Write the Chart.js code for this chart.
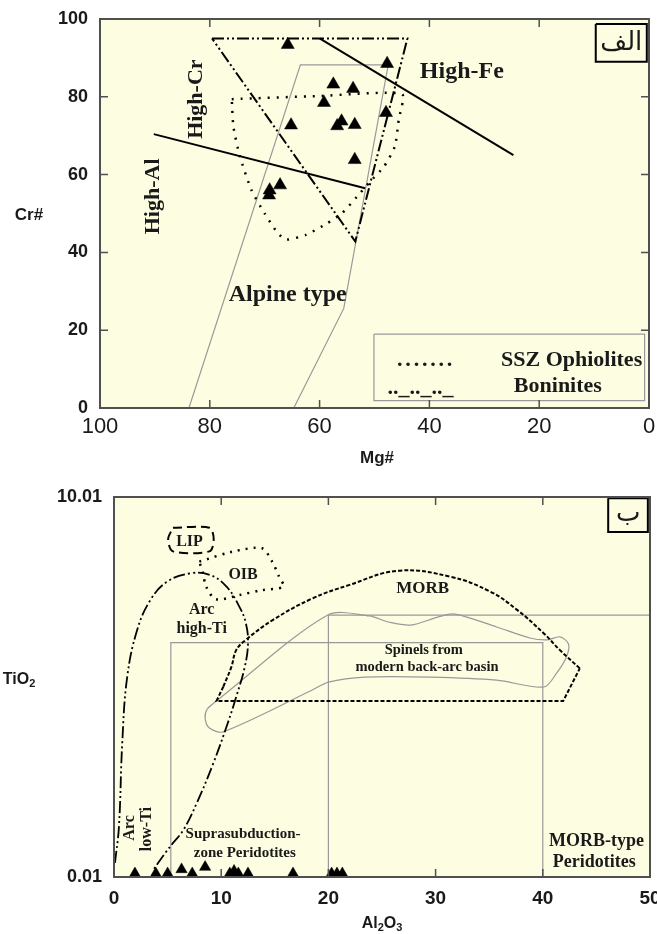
<!DOCTYPE html>
<html lang="fa">
<head>
<meta charset="UTF-8">
<title>Cr# - Mg# و TiO2 - Al2O3</title>
<script src="https://cdn.jsdelivr.net/npm/chart.js"></script>
<style>
  body { margin: 0; background: #fff; }
  .wrap { position: relative; width: 657px; height: 934px; }
  canvas { position: absolute; left: 0; }
</style>
</head>
<body>
<div class="wrap">
  <canvas id="chartTop" width="657" height="480" style="top:0"></canvas>
  <canvas id="chartBottom" width="657" height="484" style="top:450px"></canvas>
</div>
<script>
// ---------- panel الف : Cr# vs Mg# ----------
const sampleMg = [65.8, 47.7, 57.5, 53.9, 59.2, 47.9, 65.2, 56.0, 56.8, 53.6, 53.6, 67.2, 69.1, 69.2];
const sampleCr = [93.4, 88.5, 83.2, 82.1, 78.5, 75.9, 72.7, 73.7, 72.5, 72.8, 63.8, 57.3, 56.0, 54.7];

const boniniteMg = [79.6, 44.0, 53.5, 79.6];
const boniniteCr = [95, 95, 42.8, 95];

const sszMg = [76.0, 60.0, 45.0, 45.6, 46.3, 48.3, 50.8, 53.2, 55.9, 58.6, 62.5, 66.0, 67.6, 70.0, 72.4, 74.5, 75.7, 76.0];
const sszCr = [79.4, 80.2, 80.7, 74.0, 67.2, 62.0, 58.2, 54.3, 50.1, 47.5, 44.5, 43.3, 44.9, 50.0, 56.0, 64.6, 72.3, 79.4];

const alpineMg = [83.8, 63.5, 47.5, 55.6, 64.7];
const alpineCr = [0, 88.2, 88.2, 25.6, 0];

const highFeMg = [60, 24.7];
const highFeCr = [95, 65];
const highAlMg = [90.2, 51.7];
const highAlCr = [70.4, 56.5];

const legendBoxMg = [50.1, 0.8, 0.8, 50.1, 50.1];
const legendBoxCr = [19, 19, 1.9, 1.9, 19];
const tagBoxMg = [9.7, 0.4, 0.4, 9.7, 9.7];
const tagBoxCr = [98.7, 98.7, 89, 89, 98.7];

const topXTicks = [100, 80, 60, 40, 20, 0];
const topYTicks = [0, 20, 40, 60, 80, 100];
const topMarks = [20, 40, 60, 80];

// ---------- panel ب : TiO2 vs Al2O3 ----------
const spinelAl = [1.95, 3.9, 5.0, 6.3, 7.3, 8.5, 10.8, 11.2, 11.6, 12.5, 16.7, 20.3, 20.8, 21.3];
const spinelTi = [0.10, 0.10, 0.10, 0.21, 0.10, 0.27, 0.10, 0.17, 0.10, 0.10, 0.10, 0.10, 0.10, 0.10];

const arcAl = [0.09, 0.46, 0.77, 1.23, 2.16, 3.40, 4.94, 7.10, 8.95, 10.5, 11.7, 12.3, 12.5, 12.2, 11.4, 10.6, 9.26, 7.71, 6.48, 5.49, 4.88, 3.64];
const arcTi = [0.38, 1.33, 3.54, 5.27, 6.51, 7.30, 7.78, 8.00, 7.96, 7.65, 7.12, 6.69, 6.16, 5.54, 4.75, 4.05, 3.00, 1.95, 1.25, 0.90, 0.68, 0.19];

const morbEdgeAl = [10.2, 9.56, 41.9, 43.45];
const morbEdgeTi = [5.02, 4.64, 4.64, 5.50];
const morbDomeAl = [43.45, 41.6, 40.1, 37.6, 35.1, 31.4, 26.5, 21.9, 18.5, 14.8, 12.3, 11.4, 10.95, 10.2];
const morbDomeTi = [5.50, 5.98, 6.42, 7.04, 7.52, 7.91, 8.07, 7.69, 7.34, 6.77, 6.25, 5.98, 5.54, 5.02];

const backArcAl = [9.54, 19.9, 23.8, 25.6, 27.7, 30.2, 31.8, 35.7, 38.8, 40.4, 41.6, 42.4, 42.2, 41.3, 40.1, 35.7, 29.5, 23.4, 20.0, 18.5, 10.2, 8.9, 8.5, 8.7, 9.54];
const backArcTi = [4.64, 6.90, 6.88, 6.72, 6.64, 6.85, 6.93, 6.59, 6.30, 6.25, 6.33, 6.14, 5.80, 5.38, 5.01, 5.19, 5.27, 5.27, 5.14, 4.93, 3.83, 3.93, 4.19, 4.43, 4.64];

const oibAl = [7.96, 11.05, 13.8, 14.75, 15.4, 15.8, 13.8, 11.7, 9.5, 8.6, 8.3, 7.96];
const oibTi = [8.31, 8.57, 8.66, 8.31, 7.91, 7.65, 7.56, 7.43, 7.32, 7.65, 8.00, 8.31];

const lipAl = [5.5, 8.9, 9.3, 8.9, 5.5, 5.05, 5.5];
const lipTi = [9.2, 9.2, 8.9, 8.58, 8.58, 8.9, 9.2];

const ssuBoxAl = [5.3, 5.3, 40, 40];
const ssuBoxTi = [0.01, 6.18, 6.18, 0.01];
const morbBoxAl = [20, 20, 50];
const morbBoxTi = [0.01, 6.9, 6.9];
const tagBoxAl = [46.1, 49.8, 49.8, 46.1, 46.1];
const tagBoxTi = [9.98, 9.98, 9.09, 9.09, 9.98];

const bottomXTicks = [0, 10, 20, 30, 40, 50];
const bottomYTicks = [0.01, 10.01];
const bottomMarks = [10, 20, 30, 40];

// ---------- styles ----------
const PLOT_BG = '#fdfde2';
const AXIS = '#505050';
const INK = '#1a1a1a';
const GREY = '#999999';
const SERIF = '"Liberation Serif", "Times New Roman", serif';
const SANS = '"Liberation Sans", Arial, sans-serif';
const DOTS = [2, 7];
const DASH_DOT_DOT = [12, 3, 2, 3, 2, 3];

const pts = (xs, ys) => xs.map((v, i) => ({ x: v, y: ys[i] }));

function line(xs, ys, color, width, dash, tension) {
    return {
        data: pts(xs, ys),
        showLine: true,
        borderColor: color,
        borderWidth: width,
        borderDash: dash || [],
        tension: tension || 0,
        pointRadius: 0,
        pointHoverRadius: 0,
        fill: false
    };
}

function triangles(xs, ys, r) {
    return {
        data: pts(xs, ys),
        showLine: false,
        pointStyle: 'triangle',
        pointRadius: r,
        pointHoverRadius: r,
        backgroundColor: '#000',
        borderColor: '#000',
        borderWidth: 0.5
    };
}

// draws a string with sub-script pieces, centred on x
function drawChem(c, parts, x, y, font, subFont) {
    let w = 0;
    parts.forEach(p => { c.font = p[1] ? subFont : font; w += c.measureText(p[0]).width; });
    let cx = x - w / 2;
    c.textAlign = 'left';
    c.textBaseline = 'middle';
    parts.forEach(p => {
        c.font = p[1] ? subFont : font;
        c.fillText(p[0], cx, p[1] ? y + 4 : y);
        cx += c.measureText(p[0]).width;
    });
}

function panelPlugin(cfg) {
    return {
        id: 'panel',
        beforeDraw(chart) {
            const a = chart.chartArea, c = chart.ctx;
            c.save();
            c.fillStyle = PLOT_BG;
            c.fillRect(a.left, a.top, a.right - a.left, a.bottom - a.top);
            c.restore();
        },
        afterDraw(chart) {
            const c = chart.ctx, a = chart.chartArea;
            const x = chart.scales.x, y = chart.scales.y;
            c.save();
            c.fillStyle = INK;

            // notes inside the plot
            cfg.notes.forEach(n => {
                c.font = n.font;
                c.textAlign = 'center';
                c.textBaseline = n.base || 'middle';
                c.letterSpacing = n.spacing || '0px';
                const px = x.getPixelForValue(n.x), py = y.getPixelForValue(n.y);
                if (n.rot) {
                    c.save();
                    c.translate(px, py);
                    c.rotate(-Math.PI / 2);
                    c.fillText(n.t, 0, 0);
                    c.restore();
                } else {
                    c.fillText(n.t, px, py);
                }
            });
            c.letterSpacing = '0px';

            // frame
            c.strokeStyle = AXIS;
            c.lineWidth = 2;
            c.strokeRect(a.left, a.top, a.right - a.left, a.bottom - a.top);

            // inner tick marks
            c.lineWidth = 1.5;
            c.beginPath();
            cfg.xMarks.forEach(v => {
                const px = x.getPixelForValue(v);
                c.moveTo(px, a.bottom); c.lineTo(px, a.bottom - 8);
                c.moveTo(px, a.top); c.lineTo(px, a.top + 8);
            });
            cfg.yMarks.forEach(v => {
                const py = y.getPixelForValue(v);
                c.moveTo(a.left, py); c.lineTo(a.left + 8, py);
                c.moveTo(a.right, py); c.lineTo(a.right - 8, py);
            });
            c.stroke();

            // tick labels
            c.fillStyle = INK;
            c.font = cfg.xFont;
            c.textAlign = 'center';
            c.textBaseline = 'middle';
            cfg.xTicks.forEach(v => c.fillText(String(v), x.getPixelForValue(v), a.bottom + cfg.xGap));
            c.font = cfg.yFont;
            c.textAlign = 'right';
            cfg.yTicks.forEach(v => c.fillText(String(v), a.left - 12, y.getPixelForValue(v)));

            // axis titles
            cfg.titles.forEach(t => drawChem(c, t.parts, t.x, t.y, t.font, t.subFont));
            c.restore();
        }
    };
}

const baseOptions = (padding, xOpts, yOpts) => ({
    responsive: false,
    animation: false,
    devicePixelRatio: 1,
    layout: { padding: padding },
    plugins: { legend: { display: false }, tooltip: { enabled: false } },
    scales: {
        x: Object.assign({ type: 'linear', display: false }, xOpts),
        y: Object.assign({ type: 'linear', display: false }, yOpts)
    }
});

// ---------- chart الف ----------
new Chart(document.getElementById('chartTop'), {
    type: 'scatter',
    data: {
        datasets: [
            triangles(sampleMg, sampleCr, 7.5),
            line(highFeMg, highFeCr, '#000', 2),
            line(highAlMg, highAlCr, '#000', 2),
            line(boniniteMg, boniniteCr, '#000', 2, DASH_DOT_DOT),
            line(sszMg, sszCr, '#000', 2.5, DOTS, 0.2),
            line(alpineMg, alpineCr, GREY, 1.2),
            line(legendBoxMg, legendBoxCr, GREY, 1.2),
            line(tagBoxMg, tagBoxCr, '#000', 2)
        ]
    },
    options: baseOptions({ left: 100, top: 19, right: 2, bottom: 72 },
        { min: 0, max: 100, reverse: true }, { min: 0, max: 100 }),
    plugins: [panelPlugin({
        notes: [
            { t: 'High-Fe', x: 34.1, y: 86.5, font: 'bold 24px ' + SERIF },
            { t: 'High-Cr', x: 82.5, y: 79.4, rot: true, font: 'bold 22px ' + SERIF },
            { t: 'High-Al', x: 90.3, y: 54.4, rot: true, font: 'bold 22px ' + SERIF },
            { t: 'Alpine type', x: 65.8, y: 29.0, font: 'bold 24px ' + SERIF },
            { t: 'SSZ Ophiolites', x: 14.1, y: 12.3, font: 'bold 22px ' + SERIF },
            { t: 'Boninites', x: 16.6, y: 5.5, font: 'bold 22px ' + SERIF },
            { t: '.......', x: 40.6, y: 10.7, base: 'alphabetic', spacing: '2.8px', font: 'bold 22px ' + SERIF },
            { t: '.._.._.._', x: 41.6, y: 3.7, base: 'alphabetic', font: 'bold 22px ' + SERIF },
            { t: 'الف', x: 5.05, y: 93.8, font: '26px "DejaVu Sans", sans-serif' }
        ],
        xMarks: topMarks, yMarks: topMarks,
        xTicks: topXTicks, yTicks: topYTicks,
        xFont: '22px ' + SANS, xGap: 19,
        yFont: 'bold 18px ' + SANS,
        titles: [
            { parts: [['Cr#', false]], x: 29, y: 215, font: 'bold 17px ' + SANS },
            { parts: [['Mg#', false]], x: 377, y: 458, font: 'bold 17px ' + SANS }
        ]
    })]
});

// ---------- chart ب ----------
new Chart(document.getElementById('chartBottom'), {
    type: 'scatter',
    data: {
        datasets: [
            triangles(spinelAl, spinelTi, 6.5),
            line(arcAl, arcTi, '#000', 1.8, DASH_DOT_DOT, 0.4),
            line(morbEdgeAl, morbEdgeTi, '#000', 2, [4, 2]),
            line(morbDomeAl, morbDomeTi, '#000', 2, [4, 2], 0.4),
            line(oibAl, oibTi, '#000', 2.5, [2, 6], 0.3),
            line(lipAl, lipTi, '#000', 2, [9, 5], 0.3),
            line(backArcAl, backArcTi, GREY, 1.2, [], 0.3),
            line(ssuBoxAl, ssuBoxTi, GREY, 1.2),
            line(morbBoxAl, morbBoxTi, GREY, 1.2),
            line(tagBoxAl, tagBoxTi, '#000', 2)
        ]
    },
    options: baseOptions({ left: 114, top: 47, right: 3, bottom: 57 },
        { min: 0, max: 50 }, { min: 0.01, max: 10.01 }),
    plugins: [panelPlugin({
        notes: [
            { t: 'ب', x: 47.96, y: 9.55, font: '26px "DejaVu Sans", sans-serif' },
            { t: 'LIP', x: 7.04, y: 8.84, font: 'bold 16px ' + SERIF },
            { t: 'OIB', x: 12.04, y: 7.96, font: 'bold 16px ' + SERIF },
            { t: 'Arc', x: 8.18, y: 7.04, font: 'bold 16px ' + SERIF },
            { t: 'high-Ti', x: 8.18, y: 6.55, font: 'bold 16px ' + SERIF },
            { t: 'MORB', x: 28.8, y: 7.61, font: 'bold 17px ' + SERIF },
            { t: 'Spinels from', x: 28.9, y: 5.98, font: 'bold 14.5px ' + SERIF },
            { t: 'modern back-arc basin', x: 29.2, y: 5.54, font: 'bold 14.5px ' + SERIF },
            { t: 'Suprasubduction-', x: 12.04, y: 1.14, font: 'bold 15px ' + SERIF },
            { t: 'zone Peridotites', x: 12.2, y: 0.63, font: 'bold 15px ' + SERIF },
            { t: 'MORB-type', x: 45.0, y: 0.94, font: 'bold 18px ' + SERIF },
            { t: 'Peridotites', x: 44.8, y: 0.40, font: 'bold 18px ' + SERIF },
            { t: 'Arc', x: 1.48, y: 1.30, rot: true, font: 'bold 16px ' + SERIF },
            { t: 'low-Ti', x: 3.10, y: 1.27, rot: true, font: 'bold 16px ' + SERIF }
        ],
        xMarks: bottomMarks, yMarks: [],
        xTicks: bottomXTicks, yTicks: bottomYTicks,
        xFont: 'bold 19px ' + SANS, xGap: 22,
        yFont: 'bold 18px ' + SANS,
        titles: [
            { parts: [['TiO', false], ['2', true]], x: 19, y: 230, font: 'bold 16px ' + SANS, subFont: 'bold 11px ' + SANS },
            { parts: [['Al', false], ['2', true], ['O', false], ['3', true]], x: 382, y: 474, font: 'bold 16px ' + SANS, subFont: 'bold 11px ' + SANS }
        ]
    })]
});
</script>
</body>
</html>
